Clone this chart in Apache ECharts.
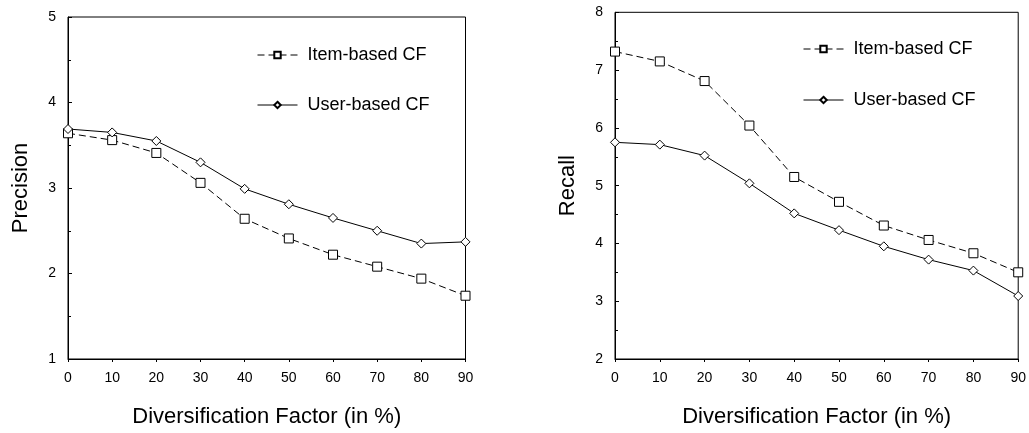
<!DOCTYPE html>
<html>
<head>
<meta charset="utf-8">
<script src="https://cdn.jsdelivr.net/npm/echarts@6/dist/echarts.min.js"></script>
<style>
	html, body { margin: 0; padding: 0; background: #fff; }
	#chart { width: 1029px; height: 433px; }
</style>
</head>
<body>
<div id="chart"></div>
<script>
	// diversification factor (%)
	var factors = [0, 10, 20, 30, 40, 50, 60, 70, 80, 90];

	// precision
	var precisionItem = [3.64, 3.56, 3.41, 3.06, 2.64, 2.41, 2.22, 2.08, 1.94, 1.74];
	var precisionUser = [3.69, 3.65, 3.55, 3.30, 2.99, 2.81, 2.65, 2.50, 2.35, 2.37];

	// recall
	var recallItem = [7.32, 7.15, 6.81, 6.04, 5.15, 4.72, 4.31, 4.06, 3.83, 3.50];
	var recallUser = [5.75, 5.71, 5.52, 5.04, 4.52, 4.23, 3.95, 3.72, 3.53, 3.09];

	var FONT = '"Liberation Sans", Arial, sans-serif';

	function pairs(ys) {
		return factors.map(function (x, i) { return [x, ys[i]]; });
	}

	function xAxisOf(idx) {
		return {
			type: 'value', gridIndex: idx, min: 0, max: 90, interval: 10,
			name: 'Diversification Factor (in %)', nameLocation: 'middle', nameGap: 47,
			nameTextStyle: { fontFamily: FONT, fontSize: 22, color: '#000' },
			axisLine: { lineStyle: { color: '#000', width: 1 } },
			axisTick: { length: 3, lineStyle: { color: '#000' } },
			axisLabel: { fontFamily: FONT, fontSize: 14, color: '#000', margin: 12 },
			splitLine: { show: false }
		};
	}

	function yAxisOf(idx, name, min, max, gap) {
		return {
			type: 'value', gridIndex: idx, min: min, max: max, interval: 1,
			name: name, nameLocation: 'middle', nameGap: gap,
			nameTextStyle: { fontFamily: FONT, fontSize: 22, color: '#000' },
			axisLine: { show: true, lineStyle: { color: '#000', width: 1 } },
			axisTick: { inside: true, length: 4, lineStyle: { color: '#000' } },
			minorTick: { show: true, splitNumber: 2, length: 3, lineStyle: { color: '#000' } },
			axisLabel: { fontFamily: FONT, fontSize: 14, color: '#000', margin: 12 },
			splitLine: { show: false }
		};
	}

	function itemSeries(name, idx, data) {
		return {
			name: name, type: 'line', xAxisIndex: idx, yAxisIndex: idx,
			data: pairs(data),
			symbol: 'rect', symbolSize: 9,
			itemStyle: { color: '#fff', borderColor: '#000', borderWidth: 1 },
			lineStyle: { color: '#000', width: 1, type: [7, 4] },
			z: 3
		};
	}

	function userSeries(name, idx, data) {
		return {
			name: name, type: 'line', xAxisIndex: idx, yAxisIndex: idx,
			data: pairs(data),
			symbol: 'diamond', symbolSize: [9, 9],
			itemStyle: { color: '#fff', borderColor: '#000', borderWidth: 1 },
			lineStyle: { color: '#000', width: 1 },
			z: 4
		};
	}

	function legendOf(left, top, gap, names) {
		return {
			orient: 'vertical', left: left, top: top, padding: 0,
			itemWidth: 40, itemHeight: 8, itemGap: gap,
			data: names,
			lineStyle: { width: 1 },
			textStyle: { fontFamily: FONT, fontSize: 18, color: '#000', padding: [0, 0, 0, 5] }
		};
	}

	var chart = echarts.init(document.getElementById('chart'));
	chart.setOption({
		animation: false,
		backgroundColor: '#fff',
		grid: [
			{ left: 68, top: 17, right: 563.5, bottom: 73.5, show: true, borderColor: '#000', borderWidth: 1 },
			{ left: 615, top: 12.3, right: 10.7, bottom: 73.7, show: true, borderColor: '#000', borderWidth: 1 }
		],
		legend: [
			legendOf(257, 46, 32, ['Item-based CF', 'User-based CF']),
			legendOf(803, 40, 33, ['Item-based CF ', 'User-based CF '])
		],
		xAxis: [xAxisOf(0), xAxisOf(1)],
		yAxis: [
			yAxisOf(0, 'Precision', 1, 5, 36),
			yAxisOf(1, 'Recall', 2, 8, 36)
		],
		series: [
			itemSeries('Item-based CF', 0, precisionItem),
			userSeries('User-based CF', 0, precisionUser),
			itemSeries('Item-based CF ', 1, recallItem),
			userSeries('User-based CF ', 1, recallUser)
		]
	});
</script>
</body>
</html>
